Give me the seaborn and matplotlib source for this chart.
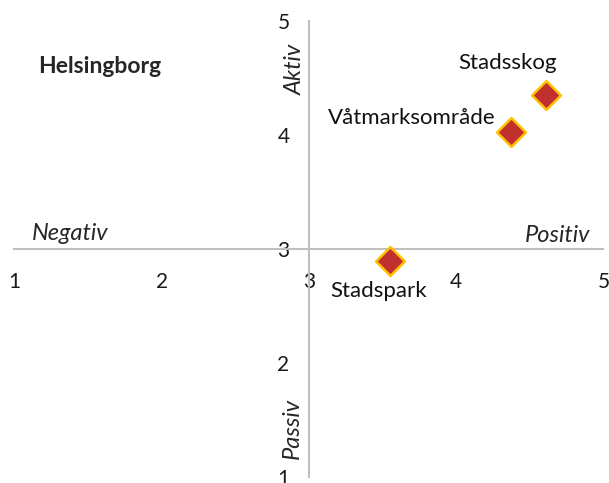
import matplotlib
matplotlib.use("Agg")
import matplotlib.pyplot as plt
import pandas as pd
import seaborn as sns

# values
places = ["Stadsskog", "Våtmarksområde", "Stadspark"]
positivity = [4.61, 4.37, 3.55]
activity = [4.35, 4.03, 2.90]
ticks = [1, 2, 3, 4, 5]

df = pd.DataFrame({"place": places, "x": positivity, "y": activity})

sns.set_theme(style="white")
plt.rcParams["font.family"] = ["Lato", "DejaVu Sans"]

fig = plt.figure(figsize=(6.09, 4.83), dpi=100)
ax = fig.add_axes([0.0236, 0.0118, 0.9672, 0.9441])

sns.scatterplot(
    data=df, x="x", y="y", ax=ax, marker="D", s=215,
    color="#C0302E", edgecolor="#FFC000", linewidth=1.8, zorder=3, legend=False,
)

ax.set_xlim(1, 5)
ax.set_ylim(1, 5)
ax.set_xticks(ticks)
ax.set_yticks(ticks)
ax.set_xlabel("")
ax.set_ylabel("")

# axes cross in the middle
for side in ("top", "right"):
    ax.spines[side].set_visible(False)
ax.spines["left"].set_position(("data", 3))
ax.spines["bottom"].set_position(("data", 3))
for side in ("left", "bottom"):
    ax.spines[side].set_color("#BFBFBF")
    ax.spines[side].set_linewidth(1.5)
ax.tick_params(axis="x", length=0, pad=16, labelsize=15, labelcolor="#1a1a1a")
ax.tick_params(axis="y", length=0, pad=14, labelsize=15, labelcolor="#1a1a1a")

# point labels, offset from each marker
offsets = {"Stadsskog": (-38, 32), "Våtmarksområde": (-99, 14), "Stadspark": (-11, -30)}
for _, row in df.iterrows():
    ax.annotate(row["place"], (row["x"], row["y"]), xytext=offsets[row["place"]],
                textcoords="offset pixels", ha="center", va="center",
                fontsize=16, color="#111111")

# quadrant captions
ax.text(1.12, 3.14, "Negativ", style="italic", fontsize=17, ha="left", va="center")
ax.text(4.91, 3.12, "Positiv", style="italic", fontsize=17, ha="right", va="center")
ax.text(2.907, 4.575, "Aktiv", style="italic", fontsize=17, rotation=90, ha="center", va="center")
ax.text(2.886, 1.43, "Passiv", style="italic", fontsize=17, rotation=90, ha="center", va="center")
ax.text(1.16, 4.60, "Helsingborg", fontweight="bold", fontsize=16.5, ha="left", va="center")

fig.savefig("out.png", dpi=100)
